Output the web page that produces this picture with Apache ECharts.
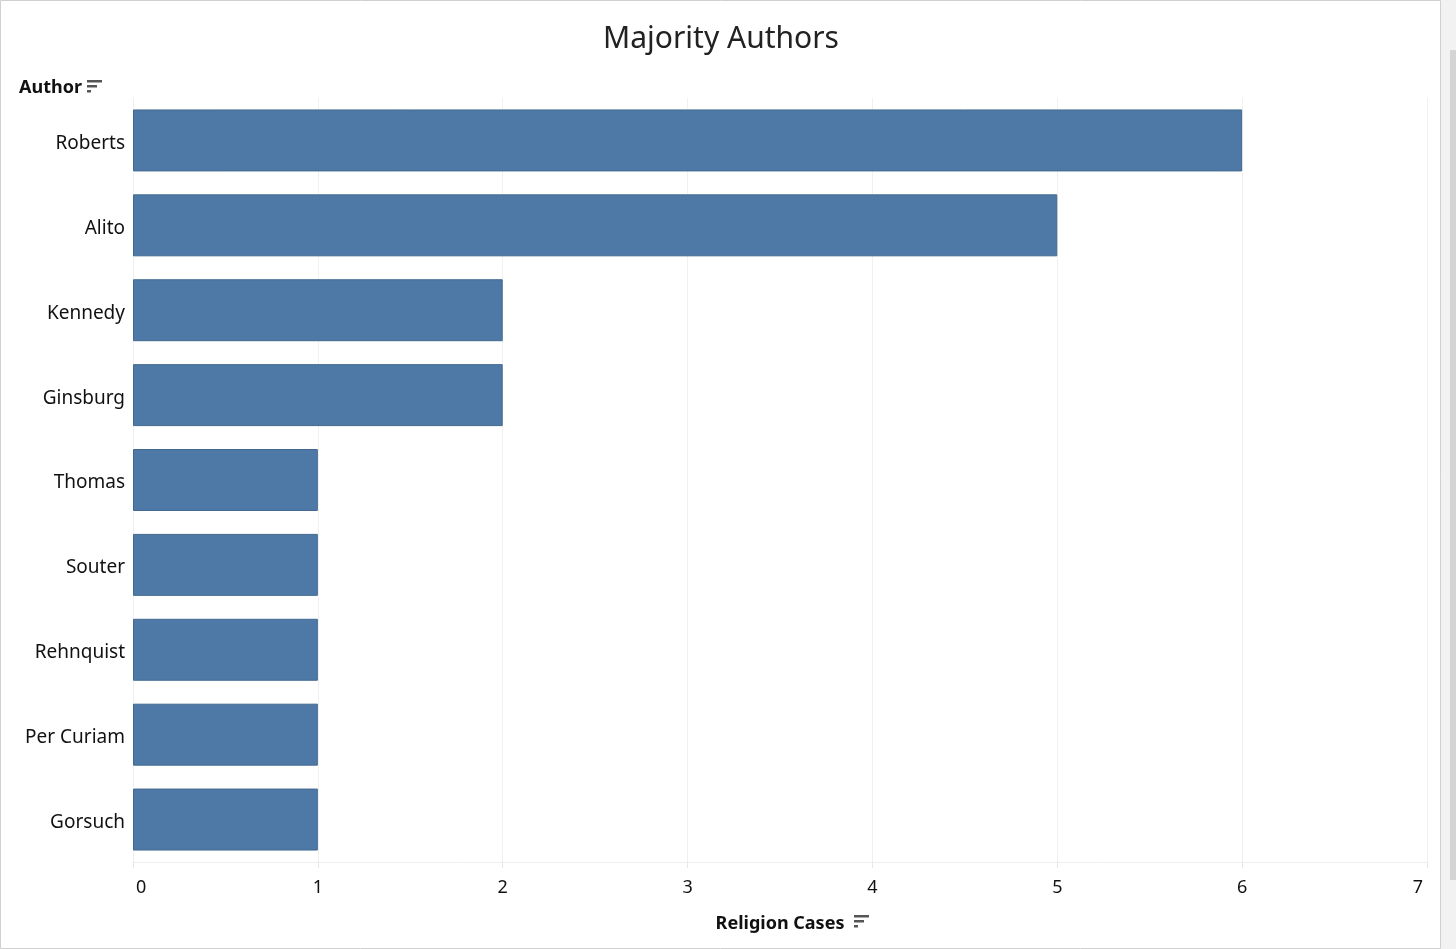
<!DOCTYPE html>
<html>
<head>
<meta charset="utf-8">
<script src="https://cdn.jsdelivr.net/npm/echarts@6/dist/echarts.min.js"></script>
<style>
html,body{margin:0;padding:0;background:#fff;}
#main{width:1456px;height:949px;}
</style>
</head>
<body>
<div id="main"></div>
<script>
const authors = ["Roberts","Alito","Kennedy","Ginsburg","Thomas","Souter","Rehnquist","Per Curiam","Gorsuch"];
const religionCases = [6,5,2,2,1,1,1,1,1];
const xTicks = [0,1,2,3,4,5,6,7];

const FONT = '"Noto Sans", "Open Sans", sans-serif';
const chart = echarts.init(document.getElementById('main'), null, {renderer:'canvas'});

function sortIcon(x, y) {
  return {
    type: 'group', x: x, y: y,
    children: [
      {type:'rect', shape:{x:0,y:0,width:15,height:2.5}, style:{fill:'#555'}},
      {type:'rect', shape:{x:0,y:5,width:10,height:2.5}, style:{fill:'#555'}},
      {type:'rect', shape:{x:0,y:10,width:4,height:2.5}, style:{fill:'#555'}}
    ]
  };
}

chart.setOption({
  backgroundColor: '#ffffff',
  animation: false,
  title: {
    text: 'Majority Authors',
    left: 598, top: 19,
    textStyle: {fontFamily: FONT, fontSize: 30, fontWeight: 'normal', color: '#222'}
  },
  grid: {left: 133, right: 29, top: 98, bottom: 87, containLabel: false},
  xAxis: {
    type: 'value', min: 0, max: 7, interval: 1,
    name: 'Religion Cases', nameLocation: 'middle', nameGap: 53,
    nameTextStyle: {fontFamily: FONT, fontSize: 18, fontWeight: 'bold', color: '#111'},
    axisLine: {show: true, lineStyle: {color: '#eeeeee', width: 1}},
    axisTick: {show: true, length: 6, lineStyle: {color: '#e6e6e6'}},
    axisLabel: {
      fontFamily: FONT, fontSize: 18, color: '#111', margin: 17,
      alignMinLabel: 'left', alignMaxLabel: 'right',
      formatter: function(v){
        if (xTicks.indexOf(v) < 0) return '';
        if (v === xTicks[0]) return '{first|' + v + '}';
        if (v === xTicks[xTicks.length - 1]) return '{last|' + v + '}';
        return String(v);
      },
      rich: {
        first: {fontFamily: FONT, fontSize: 18, color: '#111', padding: [0,0,0,3]},
        last: {fontFamily: FONT, fontSize: 18, color: '#111', padding: [0,4,0,0]}
      }
    },
    splitLine: {show: true, lineStyle: {color: '#f0f0f0', width: 1}}
  },
  yAxis: {
    type: 'category', data: authors, inverse: true,
    axisLine: {show: true, lineStyle: {color: '#f0f0f0'}},
    axisTick: {show: false},
    axisLabel: {
      margin: 8,
      formatter: function(v){ return '{n|' + v + '}'; },
      rich: {n: {fontFamily: FONT, fontSize: 19, color: '#111', padding: [6,0,0,0]}}
    }
  },
  series: [{
    type: 'bar', data: religionCases,
    barCategoryGap: '27%',
    itemStyle: {color: '#4e79a7', borderColor: '#41698f', borderWidth: 1}
  }],
  graphic: [
    {type:'rect', shape:{x:0.5,y:0.5,width:1440,height:948}, style:{fill:'none', stroke:'#d0d0d0', lineWidth:1}, silent:true},
    {type:'rect', shape:{x:1441,y:0,width:15,height:949}, style:{fill:'#f2f2f2'}, silent:true},
    {type:'rect', shape:{x:1450,y:50,width:6,height:830}, style:{fill:'#d4d4d4'}, silent:true},
    {type:'text', left: 19, top: 79, style:{text:'Author', font:'bold 18px ' + FONT, fill:'#111'}},
    sortIcon(87, 80),
    sortIcon(854, 915)
  ]
});
</script>
</body>
</html>
